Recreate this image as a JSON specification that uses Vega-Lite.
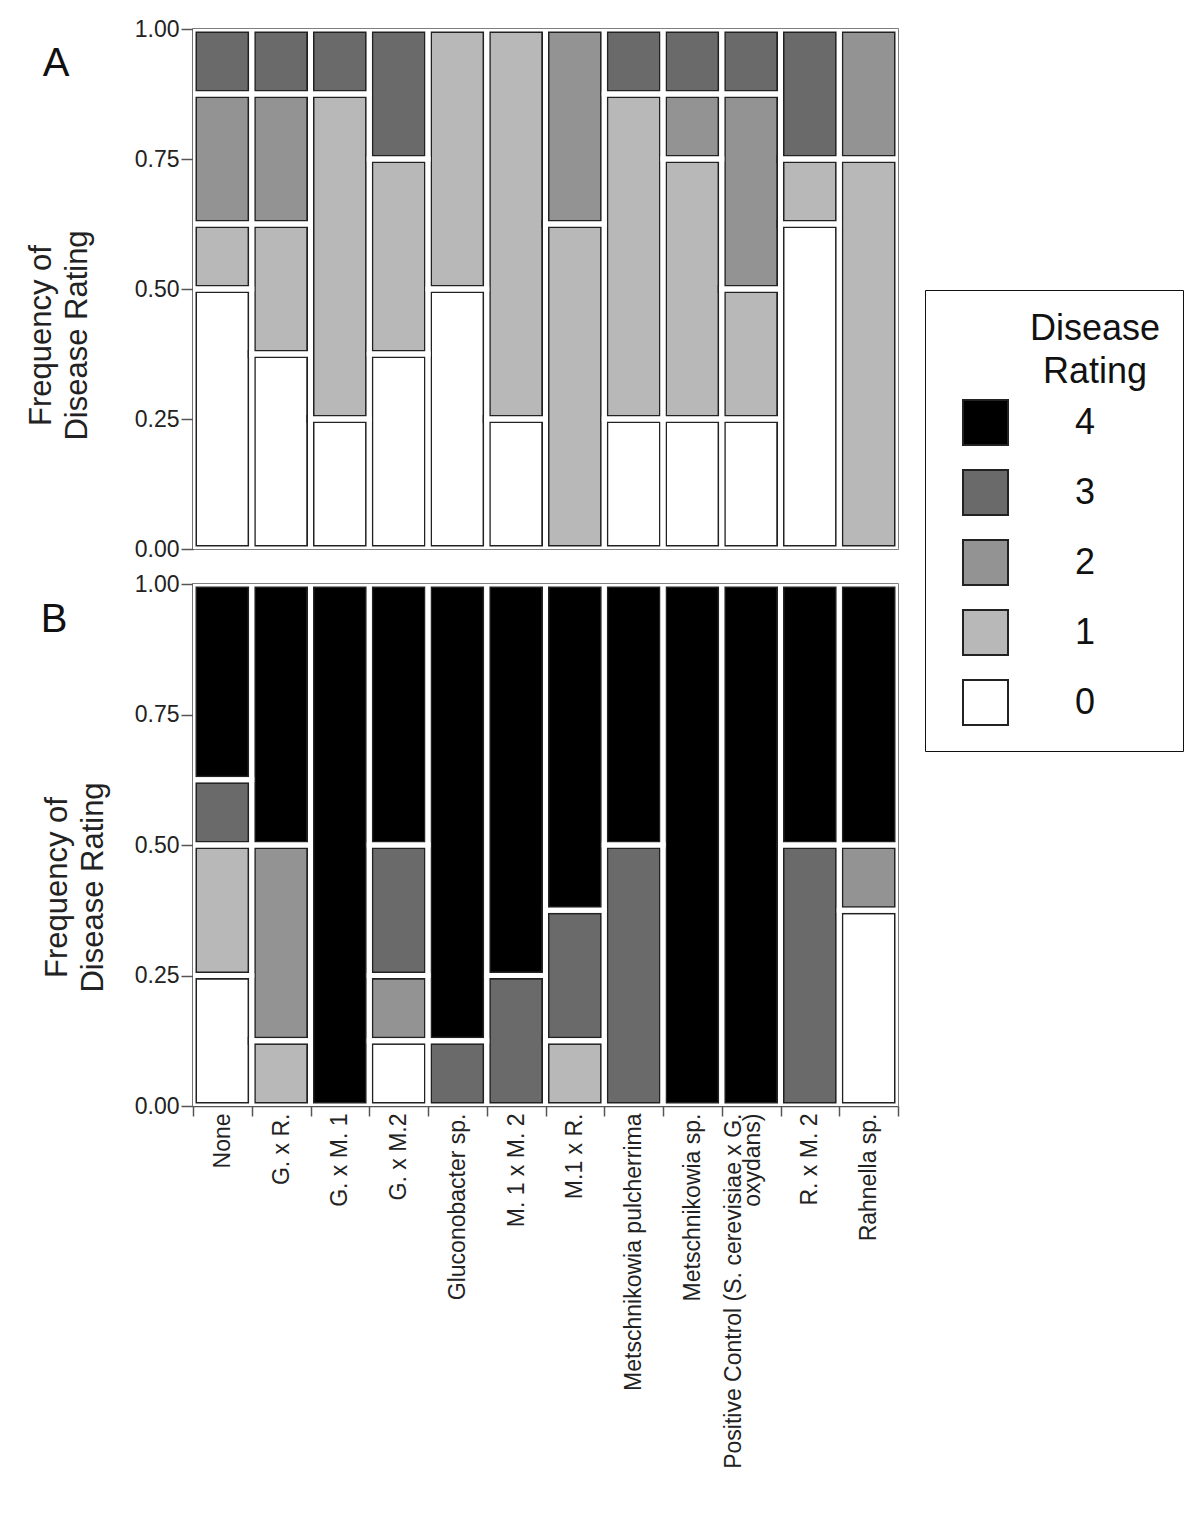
{
  "$schema": "https://vega.github.io/schema/vega-lite/v6.json",
  "padding": {"left": 24, "top": 17, "right": 0, "bottom": 0},
  "bounds": "flush",
  "spacing": 35,
  "config": {
    "font": "Liberation Sans",
    "view": {"stroke": "#555", "strokeWidth": 1.5},
    "axis": {
      "labelFont": "Liberation Sans", "labelFontSize": 23, "labelColor": "#222",
      "titleFont": "Liberation Sans", "titleFontSize": 31, "titleFontWeight": "normal", "titleColor": "#222",
      "domainColor": "#555", "domainWidth": 1.5, "tickColor": "#555", "tickWidth": 1.5, "grid": false
    },
    "title": {"font": "Liberation Sans", "fontWeight": "normal", "color": "#111"}
  },
  "datasets": {
    "d": [
      {"panel": "A", "group": "None", "rating": 0, "freq": 0.5},
      {"panel": "A", "group": "None", "rating": 1, "freq": 0.125},
      {"panel": "A", "group": "None", "rating": 2, "freq": 0.25},
      {"panel": "A", "group": "None", "rating": 3, "freq": 0.125},
      {"panel": "A", "group": "G. x R.", "rating": 0, "freq": 0.375},
      {"panel": "A", "group": "G. x R.", "rating": 1, "freq": 0.25},
      {"panel": "A", "group": "G. x R.", "rating": 2, "freq": 0.25},
      {"panel": "A", "group": "G. x R.", "rating": 3, "freq": 0.125},
      {"panel": "A", "group": "G. x M. 1", "rating": 0, "freq": 0.25},
      {"panel": "A", "group": "G. x M. 1", "rating": 1, "freq": 0.625},
      {"panel": "A", "group": "G. x M. 1", "rating": 3, "freq": 0.125},
      {"panel": "A", "group": "G. x M.2", "rating": 0, "freq": 0.375},
      {"panel": "A", "group": "G. x M.2", "rating": 1, "freq": 0.375},
      {"panel": "A", "group": "G. x M.2", "rating": 3, "freq": 0.25},
      {"panel": "A", "group": "Gluconobacter sp.", "rating": 0, "freq": 0.5},
      {"panel": "A", "group": "Gluconobacter sp.", "rating": 1, "freq": 0.5},
      {"panel": "A", "group": "M. 1 x M. 2", "rating": 0, "freq": 0.25},
      {"panel": "A", "group": "M. 1 x M. 2", "rating": 1, "freq": 0.75},
      {"panel": "A", "group": "M.1 x R.", "rating": 1, "freq": 0.625},
      {"panel": "A", "group": "M.1 x R.", "rating": 2, "freq": 0.375},
      {"panel": "A", "group": "Metschnikowia pulcherrima", "rating": 0, "freq": 0.25},
      {"panel": "A", "group": "Metschnikowia pulcherrima", "rating": 1, "freq": 0.625},
      {"panel": "A", "group": "Metschnikowia pulcherrima", "rating": 3, "freq": 0.125},
      {"panel": "A", "group": "Metschnikowia sp.", "rating": 0, "freq": 0.25},
      {"panel": "A", "group": "Metschnikowia sp.", "rating": 1, "freq": 0.5},
      {"panel": "A", "group": "Metschnikowia sp.", "rating": 2, "freq": 0.125},
      {"panel": "A", "group": "Metschnikowia sp.", "rating": 3, "freq": 0.125},
      {"panel": "A", "group": "Positive Control (S. cerevisiae x G. oxydans)", "rating": 0, "freq": 0.25},
      {"panel": "A", "group": "Positive Control (S. cerevisiae x G. oxydans)", "rating": 1, "freq": 0.25},
      {"panel": "A", "group": "Positive Control (S. cerevisiae x G. oxydans)", "rating": 2, "freq": 0.375},
      {"panel": "A", "group": "Positive Control (S. cerevisiae x G. oxydans)", "rating": 3, "freq": 0.125},
      {"panel": "A", "group": "R. x M. 2", "rating": 0, "freq": 0.625},
      {"panel": "A", "group": "R. x M. 2", "rating": 1, "freq": 0.125},
      {"panel": "A", "group": "R. x M. 2", "rating": 3, "freq": 0.25},
      {"panel": "A", "group": "Rahnella sp.", "rating": 1, "freq": 0.75},
      {"panel": "A", "group": "Rahnella sp.", "rating": 2, "freq": 0.25},
      {"panel": "B", "group": "None", "rating": 0, "freq": 0.25},
      {"panel": "B", "group": "None", "rating": 1, "freq": 0.25},
      {"panel": "B", "group": "None", "rating": 3, "freq": 0.125},
      {"panel": "B", "group": "None", "rating": 4, "freq": 0.375},
      {"panel": "B", "group": "G. x R.", "rating": 1, "freq": 0.125},
      {"panel": "B", "group": "G. x R.", "rating": 2, "freq": 0.375},
      {"panel": "B", "group": "G. x R.", "rating": 4, "freq": 0.5},
      {"panel": "B", "group": "G. x M. 1", "rating": 4, "freq": 1.0},
      {"panel": "B", "group": "G. x M.2", "rating": 0, "freq": 0.125},
      {"panel": "B", "group": "G. x M.2", "rating": 2, "freq": 0.125},
      {"panel": "B", "group": "G. x M.2", "rating": 3, "freq": 0.25},
      {"panel": "B", "group": "G. x M.2", "rating": 4, "freq": 0.5},
      {"panel": "B", "group": "Gluconobacter sp.", "rating": 3, "freq": 0.125},
      {"panel": "B", "group": "Gluconobacter sp.", "rating": 4, "freq": 0.875},
      {"panel": "B", "group": "M. 1 x M. 2", "rating": 3, "freq": 0.25},
      {"panel": "B", "group": "M. 1 x M. 2", "rating": 4, "freq": 0.75},
      {"panel": "B", "group": "M.1 x R.", "rating": 1, "freq": 0.125},
      {"panel": "B", "group": "M.1 x R.", "rating": 3, "freq": 0.25},
      {"panel": "B", "group": "M.1 x R.", "rating": 4, "freq": 0.625},
      {"panel": "B", "group": "Metschnikowia pulcherrima", "rating": 3, "freq": 0.5},
      {"panel": "B", "group": "Metschnikowia pulcherrima", "rating": 4, "freq": 0.5},
      {"panel": "B", "group": "Metschnikowia sp.", "rating": 4, "freq": 1.0},
      {"panel": "B", "group": "Positive Control (S. cerevisiae x G. oxydans)", "rating": 4, "freq": 1.0},
      {"panel": "B", "group": "R. x M. 2", "rating": 3, "freq": 0.5},
      {"panel": "B", "group": "R. x M. 2", "rating": 4, "freq": 0.5},
      {"panel": "B", "group": "Rahnella sp.", "rating": 0, "freq": 0.375},
      {"panel": "B", "group": "Rahnella sp.", "rating": 2, "freq": 0.125},
      {"panel": "B", "group": "Rahnella sp.", "rating": 4, "freq": 0.5}
    ]
  },
  "vconcat": [
    {
      "width": 705,
      "height": 520,
      "data": {"name": "d"},
      "transform": [{"filter": "datum.panel == 'A'"}],
      "title": {"text": "A", "orient": "left", "angle": 0, "anchor": "end", "frame": "group", "fontSize": 40, "offset": -71, "dy": 15},
      "encoding": {
        "x": {"field": "group", "type": "nominal",
          "sort": ["None", "G. x R.", "G. x M. 1", "G. x M.2", "Gluconobacter sp.", "M. 1 x M. 2", "M.1 x R.", "Metschnikowia pulcherrima", "Metschnikowia sp.", "Positive Control (S. cerevisiae x G. oxydans)", "R. x M. 2", "Rahnella sp."],
          "scale": {"paddingInner": 0, "paddingOuter": 0}, "axis": null},
        "y": {"field": "freq", "type": "quantitative", "stack": "zero", "scale": {"domain": [0, 1], "nice": false},
          "axis": {"values": [0, 0.25, 0.5, 0.75, 1], "format": ".2f", "title": ["Frequency of", "Disease Rating"], "titleLineHeight": 36, "tickSize": 12, "labelPadding": 2, "titlePadding": 41, "titleY": 306}},
        "order": {"field": "rating", "type": "quantitative", "sort": "ascending"}
      },
      "layer": [
        {"mark": {"type": "bar", "stroke": "#222", "strokeWidth": 8, "clip": true},
         "encoding": {"color": {"field": "rating", "type": "ordinal",
           "scale": {"domain": [4, 3, 2, 1, 0], "range": ["#000000", "#6a6a6a", "#939393", "#b8b8b8", "#ffffff"]},
           "legend": {"orient": "none", "legendX": 732, "legendY": 261, "title": ["Disease", "Rating"],
             "titleFontSize": 36, "titleFontWeight": "normal", "titleColor": "#111", "titleLineHeight": 43, "titleAnchor": "end", "titleAlign": "center", "titlePadding": 8,
             "labelFontSize": 36, "labelColor": "#111", "labelAlign": "center", "labelOffset": 76,
             "symbolType": "square", "symbolSize": 2025, "symbolStrokeColor": "#222", "symbolStrokeWidth": 2, "symbolOpacity": 1, "symbolOffset": 15,
             "rowPadding": 17, "padding": 22, "strokeColor": "#111", "fillColor": "white"}}}},
        {"mark": {"type": "bar", "fillOpacity": 0, "stroke": "white", "strokeWidth": 5, "clip": true},
         "encoding": {"detail": {"field": "rating", "type": "ordinal"}}}
      ]
    },
    {
      "width": 705,
      "height": 522,
      "data": {"name": "d"},
      "transform": [{"filter": "datum.panel == 'B'"}],
      "title": {"text": "B", "orient": "left", "angle": 0, "anchor": "end", "frame": "group", "fontSize": 40, "offset": -53, "dy": 16},
      "encoding": {
        "x": {"field": "group", "type": "nominal",
          "sort": ["None", "G. x R.", "G. x M. 1", "G. x M.2", "Gluconobacter sp.", "M. 1 x M. 2", "M.1 x R.", "Metschnikowia pulcherrima", "Metschnikowia sp.", "Positive Control (S. cerevisiae x G. oxydans)", "R. x M. 2", "Rahnella sp."],
          "scale": {"paddingInner": 0, "paddingOuter": 0},
          "axis": {"title": null, "labelAngle": -90, "labelLimit": 400, "tickSize": 10, "labelPadding": -3, "tickBand": "extent", "labelLineHeight": 19,
            "labelOffset": {"condition": {"test": "datum.value == 'Positive Control (S. cerevisiae x G. oxydans)'", "value": -18}, "value": 0},
            "labelExpr": "datum.label == 'Positive Control (S. cerevisiae x G. oxydans)' ? ['Positive Control (S. cerevisiae x G.', 'oxydans)'] : datum.label"}},
        "y": {"field": "freq", "type": "quantitative", "stack": "zero", "scale": {"domain": [0, 1], "nice": false},
          "axis": {"values": [0, 0.25, 0.5, 0.75, 1], "format": ".2f", "title": ["Frequency of", "Disease Rating"], "titleLineHeight": 36, "tickSize": 12, "labelPadding": 2, "titlePadding": 25, "titleY": 303}},
        "order": {"field": "rating", "type": "quantitative", "sort": "ascending"}
      },
      "layer": [
        {"mark": {"type": "bar", "stroke": "#222", "strokeWidth": 8, "clip": true},
         "encoding": {"color": {"field": "rating", "type": "ordinal"}}},
        {"mark": {"type": "bar", "fillOpacity": 0, "stroke": "white", "strokeWidth": 5, "clip": true},
         "encoding": {"detail": {"field": "rating", "type": "ordinal"}}}
      ]
    }
  ]
}
